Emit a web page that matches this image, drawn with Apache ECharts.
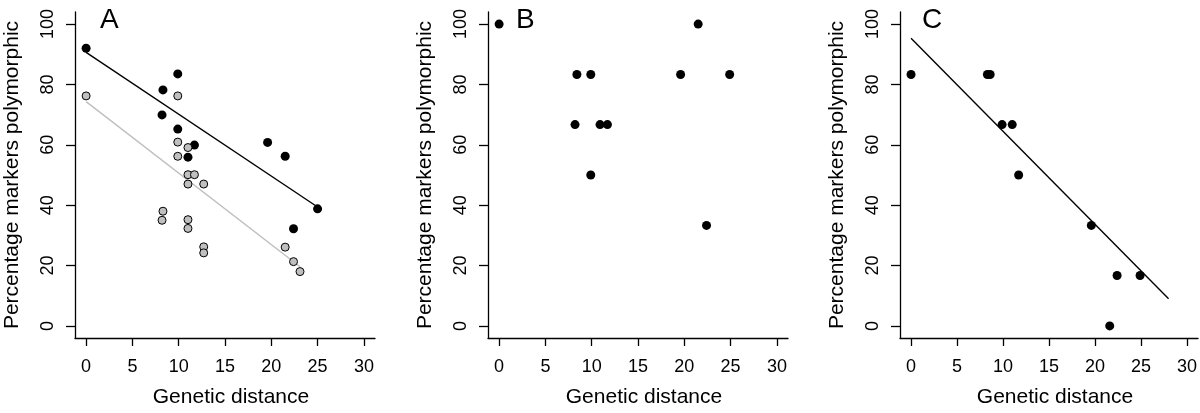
<!DOCTYPE html>
<html>
<head>
<meta charset="utf-8">
<script src="https://cdn.jsdelivr.net/npm/echarts@6/dist/echarts.min.js"></script>
<style>
html,body{margin:0;padding:0;background:#fff;}
#chart{width:1200px;height:413px;}
</style>
</head>
<body>
<div id="chart"></div>
<script>
// ---- data ----
const xTicks = [0, 5, 10, 15, 20, 25, 30];
const yTicks = [0, 20, 40, 60, 80, 100];
const panelLabels = ['A', 'B', 'C'];
const xTitle = 'Genetic distance';
const yTitle = 'Percentage markers polymorphic';

const aBlack = [[0,92.0],[8.3,78.2],[9.9,83.5],[8.2,69.9],[9.9,65.2],[11.7,59.9],[11.0,55.9],[19.6,60.8],[21.5,56.2],[25.0,38.8],[22.4,32.2]];
const aGray = [[0,76.2],[9.9,76.2],[9.9,60.9],[9.9,56.2],[11.0,59.1],[11.0,50.1],[11.7,50.1],[11.0,47.0],[12.7,47.0],[8.3,38.0],[8.2,35.0],[11.0,35.2],[11.0,32.3],[12.7,26.2],[12.7,24.2],[21.5,26.1],[22.4,21.3],[23.1,18.0]];
const aBlackFit = [[0,90.6],[25.0,39.4]];
const aGrayFit = [[0,74.3],[23.1,19.6]];

const bPoints = [[0,100],[8.4,83.3],[9.9,83.3],[8.2,66.7],[10.9,66.7],[11.7,66.7],[9.9,50],[19.6,83.3],[21.5,100],[24.9,83.3],[22.4,33.3]];

const cPoints = [[0,83.3],[8.3,83.3],[8.6,83.3],[9.9,66.7],[11.0,66.7],[11.7,50],[19.6,33.3],[22.4,16.7],[24.9,16.7],[21.6,0]];
const cFit = [[0,95.3],[28.0,9.0]];

// ---- layout ----
const FONT = '"Liberation Sans", Arial, Helvetica, sans-serif';
const grids = [
  {left: 75, top: 12, width: 300, height: 327},
  {left: 488, top: 12, width: 300, height: 327},
  {left: 900, top: 12, width: 300, height: 327}
];
const letterPos = [[100, 6], [516, 6], [922, 6]];

function xAxis(i) {
  return {
    type: 'value', gridIndex: i, min: -1.2, max: 31.2,
    name: xTitle, nameLocation: 'middle', nameGap: 49,
    nameTextStyle: {fontFamily: FONT, fontSize: 21, color: '#000', padding: [0, 0, 0, 12]},
    axisLine: {show: true, onZero: false, lineStyle: {color: '#000', width: 1.3}},
    axisTick: {show: true, length: 8, customValues: xTicks, lineStyle: {color: '#000', width: 1.3}},
    axisLabel: {show: true, customValues: xTicks, margin: 20, fontFamily: FONT, fontSize: 18, color: '#000'},
    splitLine: {show: false}
  };
}
function yAxis(i) {
  return {
    type: 'value', gridIndex: i, min: -4, max: 104,
    name: yTitle, nameLocation: 'middle', nameGap: 52, nameRotate: 90,
    nameTextStyle: {fontFamily: FONT, fontSize: 21, color: '#000'},
    axisLine: {show: true, onZero: false, lineStyle: {color: '#000', width: 1.3}},
    axisTick: {show: true, length: 9, customValues: yTicks, lineStyle: {color: '#000', width: 1.3}},
    axisLabel: {show: true, customValues: yTicks, rotate: 90, margin: 18, fontFamily: FONT, fontSize: 18, color: '#000'},
    splitLine: {show: false}
  };
}

const blackDot = {color: '#000', opacity: 1};
const grayDot = {color: '#bfbfbf', borderColor: '#000', borderWidth: 1, opacity: 1};

const option = {
  animation: false,
  backgroundColor: '#fff',
  title: panelLabels.map((t, i) => ({
    text: t, left: letterPos[i][0], top: letterPos[i][1], padding: 0,
    textStyle: {fontFamily: FONT, fontSize: 28, fontWeight: 'normal', color: '#000'}
  })),
  grid: grids,
  xAxis: [xAxis(0), xAxis(1), xAxis(2)],
  yAxis: [yAxis(0), yAxis(1), yAxis(2)],
  series: [
    {type: 'line', xAxisIndex: 0, yAxisIndex: 0, data: aBlackFit, symbol: 'none', lineStyle: {color: '#000', width: 1.4}, z: 2},
    {type: 'line', xAxisIndex: 0, yAxisIndex: 0, data: aGrayFit, symbol: 'none', lineStyle: {color: '#bfbfbf', width: 1.4}, z: 2},
    {type: 'scatter', xAxisIndex: 0, yAxisIndex: 0, data: aBlack, symbolSize: 9, itemStyle: blackDot, z: 3},
    {type: 'scatter', xAxisIndex: 0, yAxisIndex: 0, data: aGray, symbolSize: 8, itemStyle: grayDot, z: 3},
    {type: 'scatter', xAxisIndex: 1, yAxisIndex: 1, data: bPoints, symbolSize: 9, itemStyle: blackDot, z: 3},
    {type: 'line', xAxisIndex: 2, yAxisIndex: 2, data: cFit, symbol: 'none', lineStyle: {color: '#000', width: 1.4}, z: 2},
    {type: 'scatter', xAxisIndex: 2, yAxisIndex: 2, data: cPoints, symbolSize: 9, itemStyle: blackDot, z: 3}
  ]
};

const chart = echarts.init(document.getElementById('chart'), null, {renderer: 'canvas'});
chart.setOption(option);
</script>
</body>
</html>
